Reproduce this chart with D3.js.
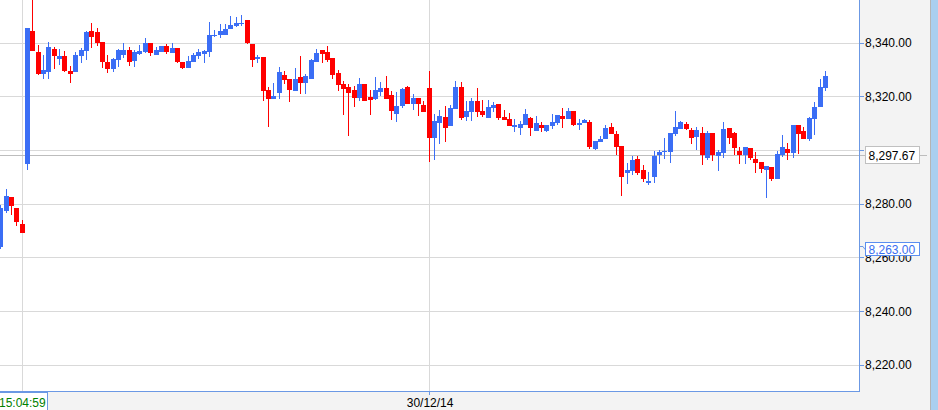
<!DOCTYPE html>
<html><head><meta charset="utf-8">
<script src="https://cdn.jsdelivr.net/npm/d3@7"></script>
<style>
body{margin:0;background:#fff;overflow:hidden;}
svg{display:block;font-family:"Liberation Sans",Arial,sans-serif;}
</style>
</head><body>
<svg id="chart" width="938" height="410"></svg>
<script>
const candleOpen=[8263.9,8277.3,8282.5,8278.4,8272.5,8294.8,8344.4,8336.5,8328.3,8329.1,
8337.7,8333.9,8335.1,8329.5,8329.1,8335.1,8336.9,8344.4,8344.0,8340.3,
8332.8,8330.2,8333.6,8335.4,8337.3,8333.2,8335.8,8336.5,8339.9,8335.4,
8336.5,8338.8,8336.2,8338.0,8332.8,8330.6,8332.8,8335.1,8335.8,8336.5,
8342.5,8342.9,8342.9,8345.1,8346.2,8347.0,8348.5,8339.5,8333.9,8334.7,
8322.4,8319.0,8321.3,8328.0,8326.5,8322.0,8327.2,8325.0,8326.5,8332.8,
8337.3,8336.5,8334.3,8328.7,8324.6,8323.5,8322.4,8319.4,8324.6,8319.8,
8319.0,8321.6,8323.1,8320.5,8313.5,8316.4,8323.5,8317.2,8319.4,8316.8,
8323.1,8304.5,8310.1,8312.3,8309.0,8315.3,8323.5,8312.3,8314.2,8318.3,
8314.6,8312.0,8315.7,8317.2,8312.3,8311.6,8308.6,8308.2,8309.3,8312.0,
8307.1,8309.3,8307.1,8309.0,8310.1,8312.7,8311.6,8314.6,8309.3,8310.1,
8310.5,8300.4,8303.0,8304.1,8308.6,8306.0,8301.5,8291.5,8292.2,8296.7,
8292.6,8287.7,8290.0,8298.2,8299.3,8299.3,8306.0,8307.9,8309.7,8307.5,
8304.9,8306.4,8297.1,8306.4,8297.8,8298.9,8308.2,8306.4,8299.7,8298.2,
8300.8,8296.7,8295.6,8292.6,8293.7,8289.2,8298.2,8300.4,8298.9,8309.3,
8307.1,8304.1,8311.6,8316.1,8323.1];
const candleHigh=[8279.5,8285.5,8282.5,8278.4,8274.0,8345.5,8357.0,8339.1,8335.4,8340.3,
8338.4,8337.7,8336.9,8331.3,8336.5,8338.0,8344.4,8347.3,8345.5,8340.3,
8335.4,8334.3,8337.7,8339.9,8338.4,8337.3,8339.1,8341.8,8339.9,8338.4,
8338.8,8339.5,8339.9,8338.0,8332.8,8335.1,8336.2,8337.7,8337.3,8347.7,
8344.7,8347.0,8347.0,8349.9,8349.6,8350.3,8348.5,8339.5,8335.4,8334.7,
8323.5,8325.0,8330.9,8329.5,8326.5,8330.6,8335.1,8328.3,8333.9,8337.7,
8337.3,8338.8,8334.3,8329.8,8325.7,8324.6,8323.9,8326.9,8324.6,8322.4,
8327.2,8325.4,8327.6,8322.0,8321.6,8323.1,8323.9,8320.9,8319.4,8318.3,
8329.5,8313.5,8314.9,8316.4,8316.8,8325.7,8325.4,8318.3,8319.4,8323.1,
8318.7,8318.7,8317.9,8317.2,8314.9,8313.8,8311.6,8310.8,8315.3,8312.3,
8312.7,8310.5,8309.3,8313.5,8313.1,8315.7,8315.7,8314.6,8311.6,8311.6,
8311.2,8303.4,8305.3,8309.3,8310.1,8307.1,8301.5,8295.2,8297.8,8297.8,
8294.5,8291.9,8299.7,8300.0,8304.5,8306.4,8314.6,8310.8,8310.5,8308.2,
8308.6,8308.6,8307.1,8306.4,8300.0,8310.5,8308.2,8306.7,8301.2,8301.2,
8300.8,8299.3,8295.6,8294.1,8293.7,8299.7,8305.6,8302.7,8309.3,8309.3,
8308.6,8312.3,8317.9,8326.5,8329.5];
const candleLow=[8263.0,8276.6,8275.9,8271.7,8269.1,8292.6,8336.9,8328.0,8326.5,8326.5,
8330.2,8331.7,8329.1,8325.0,8329.1,8332.4,8333.6,8338.0,8338.8,8330.6,
8328.7,8329.1,8330.9,8334.3,8331.3,8330.9,8335.4,8336.2,8335.1,8335.4,
8336.5,8335.8,8336.2,8332.4,8330.2,8330.6,8332.8,8333.9,8332.4,8334.7,
8342.1,8341.8,8342.9,8345.1,8345.8,8346.2,8339.5,8330.9,8332.4,8318.3,
8308.6,8319.0,8319.0,8324.6,8317.9,8322.0,8320.9,8320.9,8326.5,8332.8,
8332.4,8332.8,8326.5,8322.0,8313.1,8305.3,8316.1,8318.3,8318.3,8313.1,
8318.7,8320.2,8319.0,8311.2,8310.5,8315.7,8317.2,8314.9,8312.7,8314.2,
8295.6,8296.3,8302.3,8303.0,8309.0,8315.3,8311.2,8310.8,8310.8,8312.3,
8312.3,8312.0,8314.2,8311.2,8311.2,8309.0,8306.7,8305.6,8309.3,8305.3,
8307.1,8306.7,8306.7,8307.9,8309.3,8308.2,8311.6,8309.0,8307.5,8310.1,
8300.4,8300.0,8303.0,8304.1,8306.0,8298.2,8282.9,8287.4,8290.7,8290.7,
8288.1,8287.0,8287.7,8294.8,8296.7,8295.2,8305.3,8307.9,8307.5,8302.3,
8300.0,8294.5,8296.3,8295.9,8292.2,8297.1,8302.3,8298.2,8294.8,8294.8,
8296.3,8291.5,8291.5,8282.2,8288.5,8289.2,8297.4,8296.3,8297.1,8298.6,
8304.1,8303.4,8305.6,8316.1,8322.0];
const candleClose=[8278.4,8282.9,8279.2,8273.2,8269.1,8345.5,8336.9,8328.3,8329.8,8338.4,
8335.1,8335.1,8329.5,8328.3,8335.4,8337.3,8344.0,8342.1,8339.9,8332.8,
8330.2,8333.9,8337.3,8337.3,8332.8,8336.5,8336.9,8339.9,8336.2,8337.3,
8338.8,8336.5,8338.0,8332.8,8330.6,8333.2,8335.4,8336.5,8336.9,8342.9,
8342.9,8344.4,8345.1,8346.6,8347.3,8347.3,8339.9,8333.6,8334.7,8322.0,
8319.0,8320.2,8329.1,8326.1,8322.4,8326.5,8325.0,8327.6,8333.6,8336.2,
8335.8,8333.6,8328.0,8324.2,8322.8,8321.3,8319.4,8324.6,8318.3,8318.7,
8322.4,8323.1,8319.0,8314.6,8316.4,8322.8,8317.2,8319.4,8317.2,8314.2,
8304.5,8310.8,8312.7,8308.2,8315.7,8323.5,8312.0,8314.6,8318.3,8314.2,
8313.1,8316.1,8316.8,8312.0,8311.2,8309.0,8309.3,8309.7,8313.5,8308.2,
8310.1,8308.2,8309.3,8310.5,8313.1,8311.6,8314.6,8309.3,8310.1,8311.2,
8301.2,8303.4,8304.1,8308.2,8306.0,8301.2,8290.0,8292.6,8296.3,8291.5,
8289.2,8288.5,8297.8,8299.3,8299.7,8306.4,8308.6,8310.5,8307.9,8304.5,
8307.5,8298.2,8306.4,8298.2,8299.3,8307.9,8304.5,8300.8,8298.2,8301.2,
8297.1,8295.2,8293.0,8294.1,8289.2,8298.6,8301.2,8298.9,8309.3,8306.0,
8304.1,8312.0,8316.1,8323.5,8327.6];

const priceTicks=[8220,8240,8260,8280,8300,8320,8340];
const dateTickIndex=[80];
const dateTickLabels=["30/12/14"];
const cursorIndex=4;
const cursorLabel="15:04:59";
const lastPrice=8297.67;
const markPrice=8263.00;

const W=938,H=410,plotW=860,plotH=391;
const svg=d3.select("#chart");
const fmt=d3.format(",.2f");

const x=d3.scaleLinear().domain([0,candleOpen.length-1]).range([0.2,824.9]);
const y=d3.scaleLinear().domain([8210.3,8355.86]).range([plotH,0]);

const BLUE="#3b6ef5",RED="#ff0000",AXIS="#6b98e4",GRID="#d9d9d9";

// panels
svg.append("rect").attr("x",0).attr("y",0).attr("width",W).attr("height",H).attr("fill","#fff");
svg.append("rect").attr("x",plotW).attr("y",0).attr("width",W-plotW).attr("height",H).attr("fill","#f3f3f3");
svg.append("rect").attr("x",0).attr("y",plotH+1).attr("width",plotW).attr("height",H-plotH).attr("fill","#f3f3f3");
svg.append("line").attr("x1",930.5).attr("x2",930.5).attr("y1",0).attr("y2",H).attr("stroke","#b4b4b4");
svg.append("rect").attr("x",931).attr("y",0).attr("width",7).attr("height",H).attr("fill","#a9cff0");

const g=svg.append("g").attr("shape-rendering","crispEdges");

// grid
g.selectAll(".hg").data(priceTicks).join("line")
 .attr("x1",0).attr("x2",plotW+4)
 .attr("y1",d=>Math.round(y(d))+0.5).attr("y2",d=>Math.round(y(d))+0.5)
 .attr("stroke",GRID);
g.selectAll(".vg").data([cursorIndex].concat(dateTickIndex)).join("line")
 .attr("x1",d=>Math.round(x(d))+0.5).attr("x2",d=>Math.round(x(d))+0.5)
 .attr("y1",0).attr("y2",plotH+4)
 .attr("stroke",GRID);

// last price line
g.append("line").attr("x1",0).attr("x2",927)
 .attr("y1",Math.round(y(lastPrice))-0.5).attr("y2",Math.round(y(lastPrice))-0.5)
 .attr("stroke","#bdbdbd");

// candles
svg.append("clipPath").attr("id","clip").append("rect").attr("width",plotW-1).attr("height",plotH);
const cg=svg.append("g").attr("clip-path","url(#clip)").attr("shape-rendering","crispEdges");
const idx=d3.range(candleOpen.length);
const col=i=>candleClose[i]>=candleOpen[i]?BLUE:RED;
cg.selectAll(".wick").data(idx).join("line")
 .attr("x1",i=>Math.round(x(i))+0.5).attr("x2",i=>Math.round(x(i))+0.5)
 .attr("y1",i=>y(candleHigh[i])).attr("y2",i=>y(candleLow[i]))
 .attr("stroke",col);
cg.selectAll(".body").data(idx).join("rect")
 .attr("x",i=>Math.round(x(i))-2).attr("width",5)
 .attr("y",i=>y(Math.max(candleOpen[i],candleClose[i])))
 .attr("height",i=>Math.max(1,y(Math.min(candleOpen[i],candleClose[i]))-y(Math.max(candleOpen[i],candleClose[i]))))
 .attr("fill",col);

// axes lines
g.append("line").attr("x1",plotW-0.5).attr("x2",plotW-0.5).attr("y1",0).attr("y2",plotH+1).attr("stroke",AXIS);
g.append("line").attr("x1",0).attr("x2",plotW).attr("y1",plotH+0.5).attr("y2",plotH+0.5).attr("stroke",AXIS);
g.selectAll(".yt").data(priceTicks).join("line")
 .attr("x1",plotW).attr("x2",plotW+4)
 .attr("y1",d=>Math.round(y(d))+0.5).attr("y2",d=>Math.round(y(d))+0.5)
 .attr("stroke",AXIS);
g.selectAll(".xt").data([cursorIndex].concat(dateTickIndex)).join("line")
 .attr("x1",d=>Math.round(x(d))+0.5).attr("x2",d=>Math.round(x(d))+0.5)
 .attr("y1",plotH+1).attr("y2",plotH+4)
 .attr("stroke",AXIS);

// price labels
svg.selectAll(".yl").data(priceTicks).join("text")
 .attr("x",865).attr("y",d=>y(d)+4.5)
 .attr("font-size",12).attr("fill","#000").text(d=>fmt(d));

// date labels
svg.selectAll(".xl").data(dateTickIndex).join("text")
 .attr("x",d=>x(d)+1.5).attr("y",406.5).attr("text-anchor","middle")
 .attr("font-size",12).attr("fill","#000").text((d,i)=>dateTickLabels[i]);

// cursor time box
svg.append("rect").attr("x",-1.5).attr("y",392.5).attr("width",49).attr("height",20)
 .attr("fill","#fff").attr("stroke",AXIS);
svg.append("text").attr("x",-1).attr("y",406.5).attr("font-size",12).attr("fill","#008000").text(cursorLabel);

// mark price box
const ym=Math.round(y(markPrice));
svg.append("path").attr("d",`M${plotW},${ym-2.5}H${plotW+3}L${plotW+5},${ym+0.5}`)
 .attr("fill","none").attr("stroke",AXIS);
svg.append("rect").attr("x",865.5).attr("y",ym-6.5).attr("width",54).attr("height",13)
 .attr("fill","#fff").attr("stroke","#5a8ef0").attr("shape-rendering","crispEdges");
svg.append("text").attr("x",868.5).attr("y",ym+4.5).attr("font-size",12).attr("fill","#3a6ef0").text(fmt(markPrice));

// last price box
const yl=Math.round(y(lastPrice))-1;
svg.append("rect").attr("x",865.5).attr("y",yl-8.5).attr("width",54).attr("height",17)
 .attr("fill","#fff").attr("stroke","#c0c0c0").attr("shape-rendering","crispEdges");
svg.append("text").attr("x",868.5).attr("y",yl+4.5).attr("font-size",12).attr("fill","#000").text(fmt(lastPrice));
</script>
</body></html>
